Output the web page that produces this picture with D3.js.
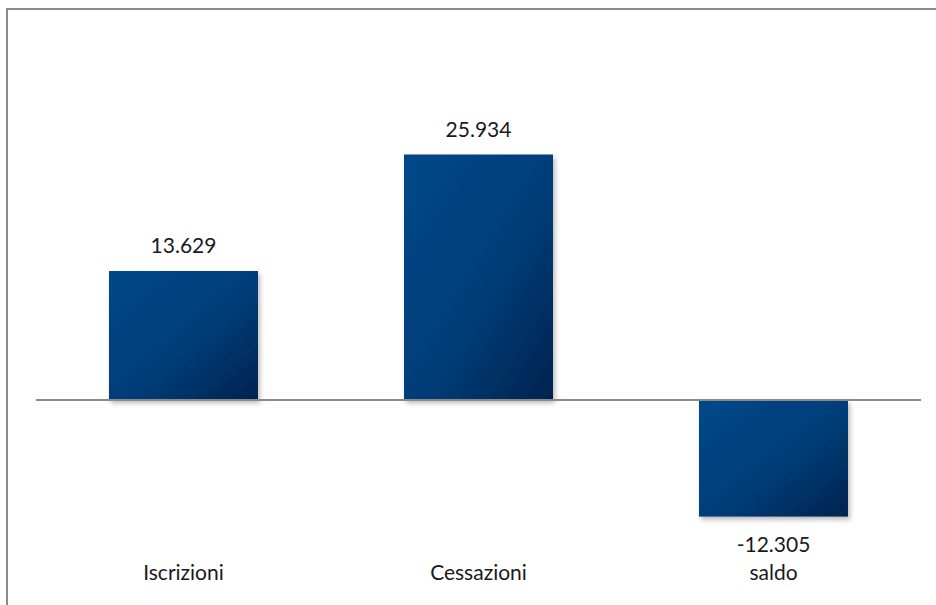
<!DOCTYPE html>
<html>
<head>
<meta charset="utf-8">
<script src="https://cdn.jsdelivr.net/npm/d3@7"></script>
<style>
  html, body { margin: 0; padding: 0; background: #fff; }
  svg { display: block; }
  text { font-family: Lato, "Open Sans", sans-serif; fill: #1a1a1a; }
</style>
</head>
<body>
<svg id="chart" width="936" height="605"></svg>
<script>
// Chart data
const categories = ["Iscrizioni", "Cessazioni", "saldo"];
const values = [13629, 25934, -12305];
const valueLabels = ["13.629", "25.934", "-12.305"];

const svg = d3.select("#chart");
const W = 936, H = 605;

// Frame: left and top edges of the chart area
svg.append("path")
  .attr("d", `M7,${H} L7,9 L${W},9`)
  .attr("fill", "none")
  .attr("stroke", "#8a8a8a")
  .attr("stroke-width", 2);

const defs = svg.append("defs");

const grad = defs.append("linearGradient")
  .attr("id", "barGrad")
  .attr("x1", "0%").attr("y1", "0%")
  .attr("x2", "100%").attr("y2", "100%");
grad.append("stop").attr("offset", "0%").attr("stop-color", "#024889");
grad.append("stop").attr("offset", "55%").attr("stop-color", "#013d78");
grad.append("stop").attr("offset", "100%").attr("stop-color", "#01234f");

const shadow = defs.append("filter")
  .attr("id", "barShadow")
  .attr("x", "-10%").attr("y", "-10%")
  .attr("width", "130%").attr("height", "130%");
shadow.append("feDropShadow")
  .attr("dx", 2).attr("dy", 3)
  .attr("stdDeviation", 2.5)
  .attr("flood-color", "#000")
  .attr("flood-opacity", 0.28);

// Scales
const x = d3.scaleBand()
  .domain(categories)
  .range([36, 921])
  .paddingInner(0.495)
  .paddingOuter(0.2475);

const y = d3.scaleLinear()
  .domain([-15000, 30000])
  .range([542.1, 116]);

const data = categories.map((c, i) => ({ cat: c, value: values[i], label: valueLabels[i] }));

// Bars
svg.append("g")
  .selectAll("rect")
  .data(data)
  .join("rect")
  .attr("x", d => x(d.cat))
  .attr("width", x.bandwidth())
  .attr("y", d => y(Math.max(0, d.value)))
  .attr("height", d => Math.abs(y(d.value) - y(0)))
  .attr("fill", "url(#barGrad)")
  .attr("filter", "url(#barShadow)");

// Zero baseline
svg.append("line")
  .attr("x1", 36).attr("x2", 921)
  .attr("y1", y(0)).attr("y2", y(0))
  .attr("stroke", "#8a8a8a")
  .attr("stroke-width", 2);

// Value labels
svg.append("g")
  .selectAll("text")
  .data(data)
  .join("text")
  .attr("x", d => x(d.cat) + x.bandwidth() / 2)
  .attr("y", d => d.value >= 0 ? y(d.value) - 18 : y(d.value) + 35)
  .attr("text-anchor", "middle")
  .attr("font-size", 21)
  .text(d => d.label);

// Category labels
svg.append("g")
  .selectAll("text")
  .data(data)
  .join("text")
  .attr("x", d => x(d.cat) + x.bandwidth() / 2)
  .attr("y", 580)
  .attr("text-anchor", "middle")
  .attr("font-size", 21)
  .text(d => d.cat);
</script>
</body>
</html>
